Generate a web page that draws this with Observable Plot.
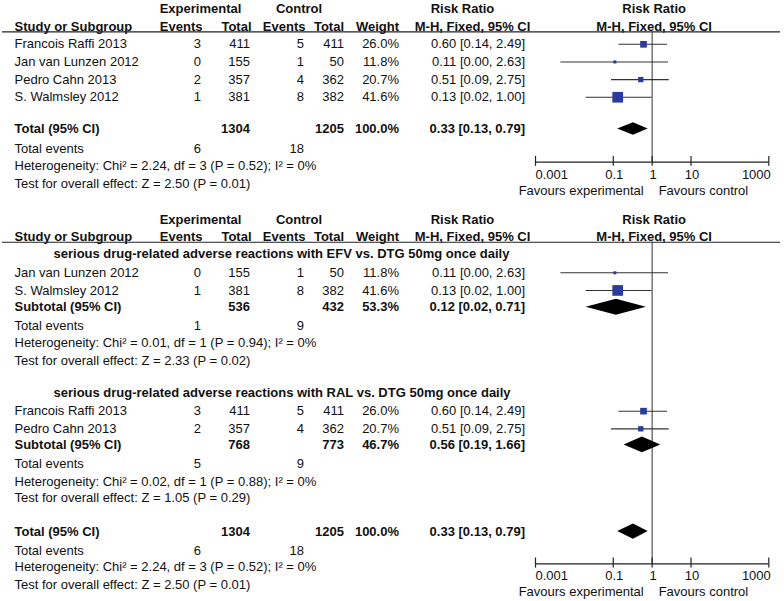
<!DOCTYPE html>
<html><head><meta charset="utf-8">
<script src="https://cdn.jsdelivr.net/npm/d3@7"></script>
<script src="https://cdn.jsdelivr.net/npm/@observablehq/plot@0.6"></script>
<style>
body{margin:0;background:#fff;}
#chart svg{display:block;}
</style>
</head><body><div id="chart"></div>
<script>
// ---------- data ----------
const studies = ["Francois Raffi 2013", "Jan van Lunzen 2012", "Pedro Cahn 2013", "S. Walmsley 2012"];
const expEvents = [3, 0, 2, 1];
const expTotals = [411, 155, 357, 381];
const ctrlEvents = [5, 1, 4, 8];
const ctrlTotals = [411, 50, 362, 382];
const weights = [26.0, 11.8, 20.7, 41.6];
const riskRatios = [0.60, 0.11, 0.51, 0.13];
const ciLower = [0.14, 0.0045, 0.09, 0.02];
const ciUpper = [2.49, 2.63, 2.75, 1.00];

const subgroupNames = [
  "serious drug-related adverse reactions with EFV vs. DTG 50mg once daily",
  "serious drug-related adverse reactions with RAL vs. DTG 50mg once daily"
];
const subgroupStudies = [[1, 3], [0, 2]];
const subgroupExpTotals = [536, 768];
const subgroupCtrlTotals = [432, 773];
const subgroupWeights = [53.3, 46.7];
const subgroupRR = [0.12, 0.56];
const subgroupLower = [0.02, 0.19];
const subgroupUpper = [0.71, 1.66];
const subgroupExpEvents = [1, 5];
const subgroupCtrlEvents = [9, 9];
const subgroupHeterogeneity = ["Chi² = 0.01, df = 1 (P = 0.94); I² = 0%", "Chi² = 0.02, df = 1 (P = 0.88); I² = 0%"];
const subgroupEffect = ["Z = 2.33 (P = 0.02)", "Z = 1.05 (P = 0.29)"];

const totalValues = {expTotal: 1304, ctrlTotal: 1205, weight: 100.0, rr: 0.33, lower: 0.13, upper: 0.79, expEvents: 6, ctrlEvents: 18};
const totalHeterogeneity = "Chi² = 2.24, df = 3 (P = 0.52); I² = 0%";
const totalEffect = "Z = 2.50 (P = 0.01)";

const axisTicks = [0.001, 0.1, 1, 10, 1000];
const axisTickLabels = ["0.001", "0.1", "1", "10", "1000"];

// ---------- layout (pixels / row units) ----------
const FONT = "Liberation Sans, Arial, Helvetica, sans-serif";
const FS = 13;
const cols = {
  label: {x: 14, anchor: "start"},
  ee: {x: 200.5, anchor: "end"},
  et: {x: 249.5, anchor: "end"},
  ce: {x: 303.5, anchor: "end"},
  ct: {x: 343.5, anchor: "end"},
  w: {x: 398.5, anchor: "end"},
  rr: {x: 524.5, anchor: "end"},
  heading: {x: 53, anchor: "start"}
};
const headerCols = [
  {text: "Experimental", x: 200, anchor: "middle", line: 0},
  {text: "Control", x: 298.5, anchor: "middle", line: 0},
  {text: "Risk Ratio", x: 462, anchor: "middle", line: 0},
  {text: "Study or Subgroup", x: 14, anchor: "start", line: 1},
  {text: "Events", x: 202, anchor: "end", line: 1},
  {text: "Total", x: 251, anchor: "end", line: 1},
  {text: "Events", x: 305, anchor: "end", line: 1},
  {text: "Total", x: 343.5, anchor: "end", line: 1},
  {text: "Weight", x: 398.5, anchor: "end", line: 1},
  {text: "M-H, Fixed, 95% CI", x: 472, anchor: "middle", line: 1}
];
const forestHeader = [
  {text: "Risk Ratio", line: 0},
  {text: "M-H, Fixed, 95% CI", line: 1}
];

const fmt = v => v.toFixed(2);
const ciText = (rr, lo, hi) => `${fmt(rr)} [${fmt(lo)}, ${fmt(hi)}]`;

function studyRow(i, row) {
  return {row, label: studies[i], ee: String(expEvents[i]), et: String(expTotals[i]),
    ce: String(ctrlEvents[i]), ct: String(ctrlTotals[i]), w: weights[i].toFixed(1) + "%",
    rr: ciText(riskRatios[i], ciLower[i], ciUpper[i]), bold: false,
    kind: "square", est: riskRatios[i], lo: ciLower[i], hi: ciUpper[i], weight: weights[i]};
}
function summaryRow(label, row, et, ct, w, rr, lo, hi, h) {
  return {row, label, et: String(et), ct: String(ct), w: w.toFixed(1) + "%",
    rr: ciText(rr, lo, hi), bold: true, kind: "diamond", est: rr, lo, hi, h};
}
function eventsRow(row, ee, ce) { return {row, label: "Total events", ee: String(ee), ce: String(ce), bold: false}; }
function hetRow(row, t) { return {row, label: "Heterogeneity: " + t, bold: false}; }
function effRow(row, t) { return {row, label: "Test for overall effect: " + t, bold: false}; }

function panel({rows, y0, pitch, height, L}) {
  const marks = [];
  const textMarks = (field, col) => {
    for (const bold of [false, true]) {
      const data = rows.filter(d => d[field] != null && !!d.bold === bold);
      if (!data.length) continue;
      marks.push(Plot.text(data, {text: field, y: "row", frameAnchor: "left", dx: col.x,
        textAnchor: col.anchor, fontSize: FS, fontWeight: bold ? "bold" : "normal", fill: "#111"}));
    }
  };
  // header
  for (const h of headerCols) {
    marks.push(Plot.text([h], {text: "text", y: d => d.line, frameAnchor: "left", dx: h.x,
      textAnchor: h.anchor, fontSize: FS, fontWeight: "bold", fill: "#111"}));
  }
  marks.push(Plot.text(forestHeader, {text: "text", x: () => 1, y: "line", dx: 2, textAnchor: "middle",
    fontSize: FS, fontWeight: "bold", fill: "#111"}));
  // header underline
  marks.push(Plot.ruleY([L.underline], {stroke: "#222", strokeWidth: 1.2, insetLeft: 2, insetRight: 4}));
  // table columns
  for (const k of Object.keys(cols)) textMarks(k, cols[k]);
  // forest: vertical line of no effect
  marks.push(Plot.ruleX([1], {y1: L.underline, y2: L.axis, stroke: "#555", strokeWidth: 1.2}));
  // CI lines + squares
  const sq = rows.filter(d => d.kind === "square");
  marks.push(Plot.ruleY(sq, {y: "row", x1: "lo", x2: "hi", stroke: "#333", strokeWidth: 1.1}));
  marks.push(Plot.dot(sq, {x: "est", y: "row", r: "weight", symbol: "square", fill: "#2a3b9f", stroke: null}));
  // diamonds
  const dia = rows.filter(d => d.kind === "diamond").flatMap((d, k) => [
    {id: k, x: d.lo, y1: d.row, y2: d.row},
    {id: k, x: d.est, y1: d.row - d.h, y2: d.row + d.h},
    {id: k, x: d.hi, y1: d.row, y2: d.row}
  ]);
  marks.push(Plot.areaY(dia, {x: "x", y1: "y1", y2: "y2", z: "id", fill: "#000", curve: "linear"}));
  // axis
  const last = axisTicks.length - 1;
  marks.push(Plot.ruleY([L.axis], {x1: axisTicks[0], x2: axisTicks[last], stroke: "#222", strokeWidth: 1.2}));
  marks.push(Plot.ruleX(axisTicks, {x: d => d, y1: L.tickTop, y2: L.tickBottom, stroke: "#222", strokeWidth: 1.2}));
  const tickData = axisTicks.map((v, i) => ({v, label: axisTickLabels[i], pos: i === 0 ? "first" : i === last ? "last" : "mid"}));
  marks.push(Plot.text(tickData.filter(d => d.pos === "mid"), {x: "v", y: L.tickLabel, text: "label", textAnchor: "middle", dx: 1, fontSize: FS, fill: "#111"}));
  marks.push(Plot.text(tickData.filter(d => d.pos === "first"), {x: "v", y: L.tickLabel, text: "label", textAnchor: "start", fontSize: FS, fill: "#111"}));
  marks.push(Plot.text(tickData.filter(d => d.pos === "last"), {x: "v", y: L.tickLabel, text: "label", textAnchor: "end", dx: 2, fontSize: FS, fill: "#111"}));
  marks.push(Plot.text(["Favours experimental"], {x: () => 1, y: L.favours, textAnchor: "end", dx: -8.5, fontSize: FS, fill: "#111"}));
  marks.push(Plot.text(["Favours control"], {x: () => 1, y: L.favours, textAnchor: "start", dx: 6.5, fontSize: FS, fill: "#111"}));

  return Plot.plot({
    width: 784, height,
    margin: 0,
    style: {fontFamily: FONT, fontSize: FS + "px", background: "#fff"},
    x: {type: "log", domain: [0.001, 1000], range: [535, 768.3], axis: null},
    y: {type: "linear", domain: [0, 1], range: [y0, y0 + pitch], axis: null},
    r: {type: "linear", domain: [0, 100], range: [0, 14.5]},
    marks
  });
}

// ---------- panel 1 ----------
const rows1 = [
  ...[0, 1, 2, 3].map((i, k) => studyRow(i, 2 + k)),
  summaryRow("Total (95% CI)", 6.8, totalValues.expTotal, totalValues.ctrlTotal, totalValues.weight,
    totalValues.rr, totalValues.lower, totalValues.upper, 0.36),
  eventsRow(7.9, totalValues.expEvents, totalValues.ctrlEvents),
  hetRow(8.9, totalHeterogeneity),
  effRow(9.9, totalEffect)
];
const p1 = panel({rows: rows1, y0: 8.5, pitch: 17.65, height: 200,
  L: {underline: 1.3, axis: 8.67, tickTop: 8.35, tickBottom: 8.91, tickLabel: 9.38, favours: 10.3}});

// ---------- panel 2 ----------
const sgLayout = [
  {head: 1.94, studies: [3.02, 4.02], sub: 4.97, ev: 6.0, het: 6.99, eff: 7.99},
  {head: 9.84, studies: [10.86, 11.86], sub: 12.77, ev: 13.85, het: 14.85, eff: 15.79}
];
const rows2 = [];
subgroupNames.forEach((name, g) => {
  const s = sgLayout[g];
  rows2.push({row: s.head, heading: name, bold: true});
  subgroupStudies[g].forEach((i, k) => rows2.push(studyRow(i, s.studies[k])));
  rows2.push(summaryRow("Subtotal (95% CI)", s.sub, subgroupExpTotals[g], subgroupCtrlTotals[g],
    subgroupWeights[g], subgroupRR[g], subgroupLower[g], subgroupUpper[g], 0.45));
  rows2.push(eventsRow(s.ev, subgroupExpEvents[g], subgroupCtrlEvents[g]));
  rows2.push(hetRow(s.het, subgroupHeterogeneity[g]));
  rows2.push(effRow(s.eff, subgroupEffect[g]));
});
rows2.push(summaryRow("Total (95% CI)", 17.68, totalValues.expTotal, totalValues.ctrlTotal, totalValues.weight,
  totalValues.rr, totalValues.lower, totalValues.upper, 0.43));
rows2.push(eventsRow(18.75, totalValues.expEvents, totalValues.ctrlEvents));
rows2.push(hetRow(19.7, totalHeterogeneity));
rows2.push(effRow(20.7, totalEffect));
const p2 = panel({rows: rows2, y0: 19, pitch: 17.65, height: 401,
  L: {underline: 1.29, axis: 19.51, tickTop: 19.18, tickBottom: 19.75, tickLabel: 20.21, favours: 21.12}});

document.getElementById("chart").append(p1, p2);
</script>
</body></html>
